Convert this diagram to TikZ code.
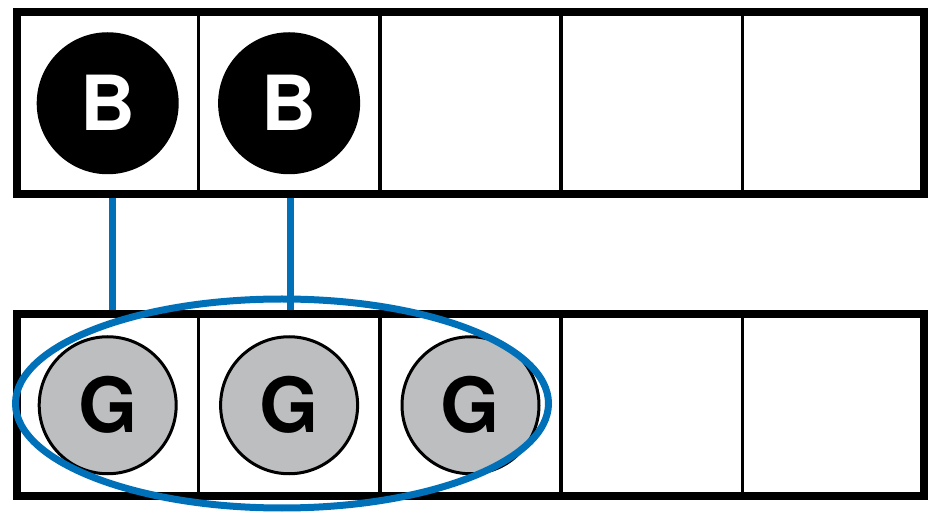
\documentclass[tikz,border=0pt]{standalone}
\usepackage{fontspec}
\setmainfont{TeX Gyre Heros}
\usepackage{tikz}
\usetikzlibrary{positioning, shapes.geometric}
\definecolor{linkblue}{RGB}{0,112,184}
\definecolor{tokengray}{RGB}{188,190,192}

\begin{document}
\begin{tikzpicture}[x=1pt, y=-1pt,
    cell/.style={draw=black, line width=3.5pt, minimum width=181.4pt, minimum height=181.5pt, inner sep=0pt, outer sep=0pt},
    frame/.style={draw=black, line width=8pt},
    tokenB/.style={circle, fill=black, text=white, minimum size=142pt, inner sep=0pt, font=\fontsize{76}{76}\selectfont\bfseries},
    tokenG/.style={circle, draw=black, line width=3pt, fill=tokengray, text=black, minimum size=137pt, inner sep=0pt, font=\fontsize{76}{76}\selectfont\bfseries},
    link/.style={linkblue, line width=7pt},
    group/.style={ellipse, draw=linkblue, line width=7pt, minimum width=533pt, minimum height=209pt, inner sep=0pt}]
    \useasboundingbox (0,0) rectangle (938,521);

    % cells of both rows
    \node[cell] (top1) at (107.7,103.25) {};
    \node[cell, below=120.5pt of top1] (bot1) {};
    \foreach \i [remember=\i as \j (initially 1)] in {2,...,5}
    {
        \node[cell, right=0pt of top\j] (top\i) {};
        \node[cell, right=0pt of bot\j] (bot\i) {};
    }

    % border
    \draw[frame] (top1.north west) rectangle (top5.south east);
    \draw[frame] (bot1.north west) rectangle (bot5.south east);

    % tokens
    \foreach \i in {1,2}
    {
        \node[tokenB] (tokB\i) at (top\i) {B};
    }
    \foreach \i in {1,2,3}
    {
        \node[tokenG] (tokG\i) at (bot\i) {G};
    }

    \node[group] (grpG) at (282,403.5) {};

    % links
    \draw[link] ([xshift=5pt, yshift=-4pt]top1.south) -- ([xshift=5pt, yshift=4pt]bot1.north);
    \draw[link] ([xshift=1pt, yshift=-4pt]top2.south) -- ([xshift=1pt, yshift=4pt]bot2.north);
\end{tikzpicture}
\end{document}
